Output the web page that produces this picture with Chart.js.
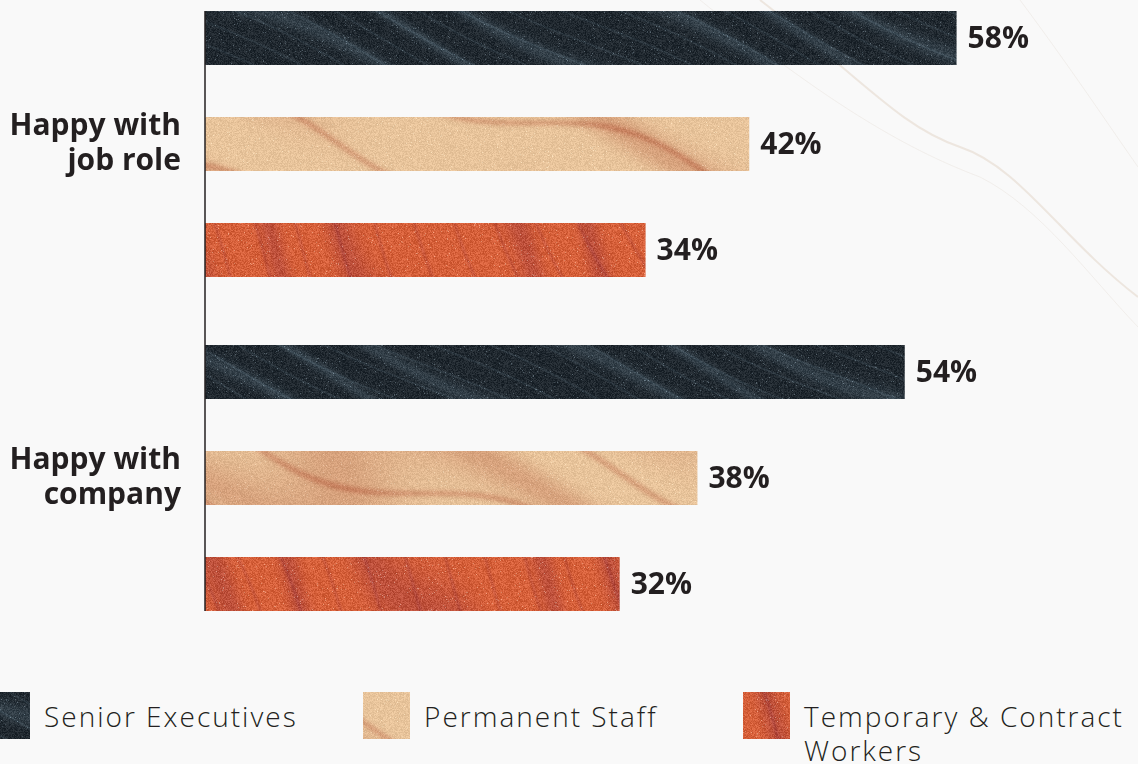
<!DOCTYPE html>
<html>
<head>
<meta charset="utf-8">
<script src="https://cdn.jsdelivr.net/npm/chart.js@4.4.1/dist/chart.umd.min.js"></script>
<style>
    html, body { margin: 0; padding: 0; }
    body { width: 1138px; height: 764px; overflow: hidden; position: relative; background: #f9f9f9; font-family: 'Open Sans', sans-serif; }
    #chartWrap { position: absolute; left: 0; top: -23px; width: 1138px; height: 668px; }
    #legend { position: absolute; left: -17px; top: 692px; width: 1160px; display: flex; }
    .item { display: flex; align-items: flex-start; width: 380px; flex: none; }
    .item:last-child { width: 395px; }
    .swatch { width: 47px; height: 47px; flex: none; background-size: cover; }
    .text { margin-left: 14px; font-size: 28px; font-weight: 300; color: #231f20; line-height: 34px; padding-top: 7px; max-width: 334px; letter-spacing: 2px; }
</style>
</head>
<body>
<div id="chartWrap"><canvas id="surveyChart"></canvas></div>
<div id="legend"></div>
<script>
const categories = [['Happy with', 'job role'], ['Happy with', 'company']];
const seriesNames = ['Senior Executives', 'Permanent Staff', 'Temporary & Contract Workers'];
const seniorExecutives = [58, 54];
const permanentStaff = [42, 38];
const temporaryWorkers = [34, 32];
const xMax = 72;

// ===== STONE TEXTURES =====
function hash(x, y) {
    const v = Math.sin(x * 12.9898 + y * 78.233) * 43758.5453;
    return v - Math.floor(v);
}

function makeTexture(base, dark, light, angle, freq, bandPow, veinAmt, grain) {
    const w = 1024, h = 680;
    const c = document.createElement('canvas');
    c.width = w; c.height = h;
    const g = c.getContext('2d');
    const img = g.createImageData(w, h);
    const ca = Math.cos(angle), sa = Math.sin(angle);
    for (let y = 0; y < h; y++) {
        for (let x = 0; x < w; x++) {
            const u = x * sa - y * ca;
            const v = x * ca + y * sa;
            let band = 0.5 + 0.5 * Math.sin(u * freq + 2.0 * Math.sin(v * 0.009 + u * 0.02));
            band = Math.pow(band, bandPow);
            let vein = 0.5 + 0.5 * Math.sin(u * freq * 2.7 + 1.5 * Math.sin(v * 0.017));
            vein = Math.pow(vein, 40);
            const n = hash(x, y) - 0.5;
            const speck = hash(y * 3.1, x * 1.7) > 0.985 ? 1 : 0;
            const i = (y * w + x) * 4;
            for (let k = 0; k < 3; k++) {
                let val = base[k] + (dark[k] - base[k]) * (band * 0.7 + vein * veinAmt)
                    + (light[k] - base[k]) * speck * 0.7 + n * grain;
                img.data[i + k] = Math.max(0, Math.min(255, val));
            }
            img.data[i + 3] = 255;
        }
    }
    g.putImageData(img, 0, 0);
    return c;
}

const slateTex = makeTexture([32, 40, 47], [60, 74, 84], [95, 110, 120], 0.45, 0.11, 6, 0.5, 32);
const sandTex = makeTexture([232, 196, 155], [208, 148, 112], [248, 225, 190], 0.3, 0.03, 3, 0.7, 24);
const redTex = makeTexture([214, 96, 58], [180, 74, 60], [240, 170, 140], 1.15, 0.06, 4, 0.4, 38);
const textures = [slateTex, sandTex, redTex];

const canvas = document.getElementById('surveyChart');
const ctx2d = canvas.getContext('2d');
const patterns = textures.map(t => ctx2d.createPattern(t, 'repeat'));

// ===== LEGEND (html) =====
const legendEl = document.getElementById('legend');
seriesNames.forEach((name, i) => {
    const item = document.createElement('div');
    item.className = 'item';
    const sw = document.createElement('div');
    sw.className = 'swatch';
    sw.style.backgroundImage = 'url(' + textures[i].toDataURL() + ')';
    sw.style.backgroundSize = '1024px 680px';
    sw.style.backgroundPosition = '-300px -200px';
    const tx = document.createElement('div');
    tx.className = 'text';
    tx.textContent = name;
    item.appendChild(sw);
    item.appendChild(tx);
    legendEl.appendChild(item);
});

// ===== PLUGINS =====
const marbleBg = {
    id: 'marbleBg',
    beforeDraw(chart) {
        const { ctx } = chart;
        ctx.save();
        ctx.strokeStyle = 'rgba(215,195,175,0.35)';
        ctx.lineWidth = 2;
        ctx.beginPath();
        ctx.moveTo(760, 23);
        ctx.bezierCurveTo(860, 100, 900, 150, 960, 170);
        ctx.bezierCurveTo(1020, 190, 1060, 260, 1138, 320);
        ctx.stroke();
        ctx.strokeStyle = 'rgba(215,200,185,0.22)';
        ctx.lineWidth = 1;
        ctx.beginPath();
        ctx.moveTo(700, 23);
        ctx.bezierCurveTo(820, 120, 900, 170, 980, 200);
        ctx.bezierCurveTo(1040, 230, 1090, 300, 1138, 350);
        ctx.stroke();
        ctx.beginPath();
        ctx.moveTo(1020, 23);
        ctx.bezierCurveTo(1070, 90, 1110, 150, 1138, 190);
        ctx.stroke();
        ctx.restore();
    }
};

const axisLine = {
    id: 'axisLine',
    afterDatasetsDraw(chart) {
        const { ctx, chartArea } = chart;
        const first = chart.getDatasetMeta(0).data[0];
        const last = chart.getDatasetMeta(chart.data.datasets.length - 1).data[1];
        ctx.save();
        ctx.strokeStyle = '#231f20';
        ctx.lineWidth = 1.5;
        ctx.beginPath();
        ctx.moveTo(chartArea.left, first.y - first.height / 2);
        ctx.lineTo(chartArea.left, last.y + last.height / 2);
        ctx.stroke();
        ctx.restore();
    }
};

const valueLabels = {
    id: 'valueLabels',
    afterDatasetsDraw(chart) {
        const { ctx } = chart;
        ctx.save();
        ctx.font = 'bold 30px "Open Sans"';
        ctx.fillStyle = '#231f20';
        ctx.textAlign = 'left';
        ctx.textBaseline = 'middle';
        chart.data.datasets.forEach((ds, i) => {
            chart.getDatasetMeta(i).data.forEach((bar, j) => {
                ctx.fillText(ds.data[j] + '%', bar.x + 11, bar.y + 1);
            });
        });
        ctx.restore();
    }
};

// ===== BAR CHART =====
new Chart(canvas, {
    type: 'bar',
    data: {
        labels: categories,
        datasets: [
            { label: seriesNames[0], data: seniorExecutives, backgroundColor: patterns[0] },
            { label: seriesNames[1], data: permanentStaff, backgroundColor: patterns[1] },
            { label: seriesNames[2], data: temporaryWorkers, backgroundColor: patterns[2] }
        ]
    },
    options: {
        indexAxis: 'y',
        responsive: true,
        maintainAspectRatio: false,
        animation: false,
        categoryPercentage: 318 / 334,
        barPercentage: 54 / 106,
        layout: { padding: 0 },
        plugins: {
            legend: { display: false },
            tooltip: { enabled: false }
        },
        scales: {
            x: { display: false, min: 0, max: xMax },
            y: {
                grid: { display: false, drawTicks: false },
                border: { display: false },
                ticks: {
                    color: '#231f20',
                    padding: 24,
                    font: { family: 'Open Sans', size: 30, weight: 'bold', lineHeight: 1.15 }
                },
                afterFit(scale) {
                    scale.width = 205;
                    scale.paddingTop = 0;
                    scale.paddingBottom = 0;
                }
            }
        }
    },
    plugins: [marbleBg, axisLine, valueLabels]
});
</script>
</body>
</html>
